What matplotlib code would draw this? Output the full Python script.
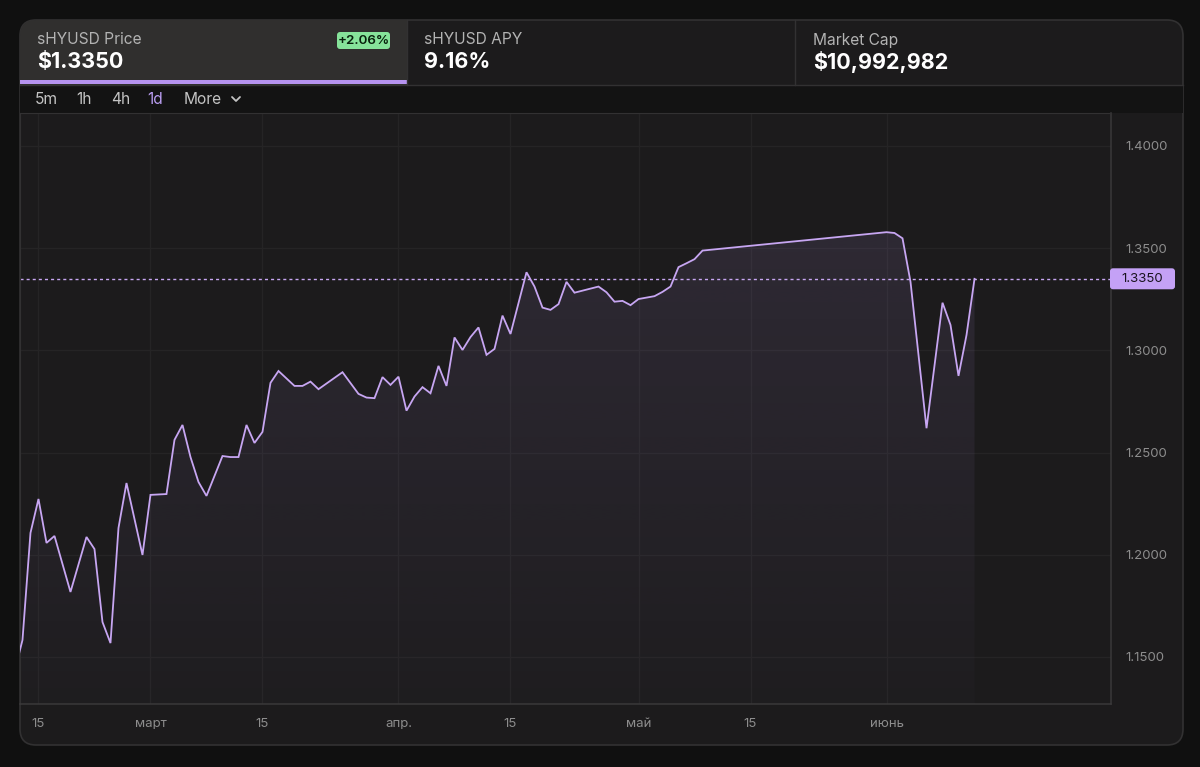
import numpy as np
import matplotlib
matplotlib.use("Agg")
import matplotlib.pyplot as plt
import matplotlib.dates as mdates
from matplotlib.patches import FancyBboxPatch, Rectangle
from matplotlib.colors import to_rgb

plt.rcParams['font.family'] = ['Inter', 'DejaVu Sans']

# daily sHYUSD price (missing days are gaps in the feed)
dates = ['2025-02-12', '2025-02-13', '2025-02-14', '2025-02-15', '2025-02-16', '2025-02-17',
         '2025-02-19', '2025-02-21', '2025-02-22', '2025-02-23', '2025-02-24', '2025-02-25',
         '2025-02-26', '2025-02-28', '2025-03-01', '2025-03-03', '2025-03-04', '2025-03-05',
         '2025-03-06', '2025-03-07', '2025-03-08', '2025-03-10', '2025-03-11', '2025-03-12',
         '2025-03-13', '2025-03-14', '2025-03-15', '2025-03-16', '2025-03-17', '2025-03-19',
         '2025-03-20', '2025-03-21', '2025-03-22', '2025-03-25', '2025-03-27', '2025-03-28',
         '2025-03-29', '2025-03-30', '2025-03-31', '2025-04-01', '2025-04-02', '2025-04-03',
         '2025-04-04', '2025-04-05', '2025-04-06', '2025-04-07', '2025-04-08', '2025-04-09',
         '2025-04-10', '2025-04-11', '2025-04-12', '2025-04-13', '2025-04-14', '2025-04-15',
         '2025-04-17', '2025-04-18', '2025-04-19', '2025-04-20', '2025-04-21', '2025-04-22',
         '2025-04-23', '2025-04-26', '2025-04-27', '2025-04-28', '2025-04-29', '2025-04-30',
         '2025-05-01', '2025-05-03', '2025-05-04', '2025-05-05', '2025-05-06', '2025-05-07',
         '2025-05-08', '2025-05-09', '2025-06-01', '2025-06-02', '2025-06-03', '2025-06-04',
         '2025-06-06', '2025-06-08', '2025-06-09', '2025-06-10', '2025-06-11', '2025-06-12']
prices = [1.1427, 1.1583, 1.2107, 1.2273, 1.2058, 1.2092,
          1.1818, 1.2087, 1.2028, 1.1671, 1.1568, 1.2131,
          1.2351, 1.1999, 1.2293, 1.2297, 1.2562, 1.2635,
          1.2478, 1.2356, 1.2288, 1.2483, 1.2478, 1.2478,
          1.2635, 1.2547, 1.2601, 1.2841, 1.2899, 1.2826,
          1.2826, 1.2847, 1.2810, 1.2893, 1.2787, 1.2769,
          1.2766, 1.2869, 1.2831, 1.2871, 1.2705, 1.2774,
          1.2820, 1.2790, 1.2924, 1.2826, 1.3063, 1.3002,
          1.3065, 1.3112, 1.2978, 1.3007, 1.3170, 1.3080,
          1.3382, 1.3312, 1.3209, 1.3198, 1.3226, 1.3335,
          1.3282, 1.3312, 1.3284, 1.3238, 1.3242, 1.3221,
          1.3251, 1.3265, 1.3286, 1.3312, 1.3407, 1.3426,
          1.3446, 1.3488, 1.3578, 1.3574, 1.3548, 1.3335,
          1.2619, 1.3233, 1.3124, 1.2875, 1.3075, 1.3350]

current_price = 1.3350
tick_dates = ['2025-02-15', '2025-03-01', '2025-03-15', '2025-04-01',
              '2025-04-15', '2025-05-01', '2025-05-15', '2025-06-01']
tick_labels = ['15', 'март', '15', 'апр.', '15', 'май', '15', 'июнь']
price_ticks = [1.15, 1.20, 1.25, 1.30, 1.35, 1.40]

header_titles = ['sHYUSD Price', 'sHYUSD APY', 'Market Cap']
header_values = ['$1.3350', '9.16%', '$10,992,982']
price_change = '+2.06%'
intervals = ['5m', '1h', '4h', '1d', 'More']

W, H = 1200, 767
LINE = '#c7a6f2'
GRID = '#252425'
BORDER = '#323132'

fig = plt.figure(figsize=(W / 100, H / 100), dpi=100)
fig.patch.set_facecolor('#101010')

# background layer in pixel coordinates (y down)
bg = fig.add_axes([0, 0, 1, 1], zorder=0)
bg.set_xlim(0, W)
bg.set_ylim(H, 0)
bg.axis('off')

card = FancyBboxPatch((20, 20), 1163, 725, boxstyle='round,pad=0,rounding_size=16',
                      fc='#1c1b1c', ec=BORDER, lw=1.2)
bg.add_patch(card)
tab = Rectangle((20, 20), 387, 65, fc='#302f2e', ec='none')
bg.add_patch(tab)
tab.set_clip_path(card)
toolbar = Rectangle((20, 85), 1163, 28, fc='#131313', ec='none')
bg.add_patch(toolbar)
toolbar.set_clip_path(card)
bg.plot([20, 1183], [85, 85], color=BORDER, lw=1)
for xd in [407, 795]:
    bg.plot([xd, xd], [20, 85], color=BORDER, lw=1)
bg.add_patch(Rectangle((20, 80), 387, 4, fc='#b693f0', ec='none'))

# header cards
for xt, title, value in zip([37, 424, 813], header_titles, header_values):
    bg.text(xt, 40, title, color='#b3b3b3', fontsize=11.2, va='center', ha='left')
    bg.text(xt, 62, value, color='white', fontsize=15.5, fontweight='bold', va='center', ha='left')
bg.add_patch(FancyBboxPatch((337, 32), 53, 17, boxstyle='round,pad=0,rounding_size=3',
                            fc='#86e39a', ec='none'))
bg.text(363.5, 40.5, price_change, color='#08200c', fontsize=9.6, fontweight='semibold',
        ha='center', va='center')

# interval selector
for xt, lab in zip([35, 76, 111, 147, 184], intervals):
    col = '#b99df0' if lab == '1d' else '#c4c4c4'
    bg.text(xt, 99, lab, color=col, fontsize=11.2, ha='left', va='center')
bg.plot([232, 236, 240], [97, 101, 97], color='#c4c4c4', lw=1.3, solid_capstyle='round')

# chart
ax = fig.add_axes([20 / W, (H - 704) / H, 1091 / W, 591 / H], zorder=1)
ax.set_facecolor('#1c1b1c')

x = mdates.date2num(np.array(dates, dtype='datetime64[D]'))
y = np.array(prices)
base = mdates.date2num(np.datetime64('2025-02-15'))
xlo, xhi = base - 2.31, base + 134.06
ylo, yhi = 1.1270, 1.4161

poly = ax.fill_between(x, y, ylo, color='none', lw=0)
rgba = np.zeros((256, 1, 4))
rgba[..., :3] = to_rgb('#a98bd6')
rgba[..., 3] = np.linspace(0.02, 0.13, 256)[:, None]
im = ax.imshow(rgba, extent=[x[0], x[-1], ylo, y.max()], origin='lower',
               aspect='auto', zorder=1, interpolation='bilinear')
im.set_clip_path(poly.get_paths()[0], transform=ax.transData)

ax.plot(x, y, color=LINE, lw=1.3, zorder=3, solid_joinstyle='miter')
ax.axhline(current_price, color=LINE, lw=1, ls=(0, (2.2, 2.2)), zorder=2)

ax.set_xlim(xlo, xhi)
ax.set_ylim(ylo, yhi)
ax.set_xticks(mdates.date2num(np.array(tick_dates, dtype='datetime64[D]')))
ax.set_xticklabels(tick_labels)
ax.set_yticks(price_ticks)
ax.set_yticklabels([f'{v:.4f}' for v in price_ticks])
ax.yaxis.tick_right()
ax.tick_params(axis='x', length=0, pad=10, labelsize=9.5, labelcolor='#8d8d8d')
ax.tick_params(axis='y', length=0, pad=10, labelsize=9.5, labelcolor='#8d8d8d')
ax.grid(True, color=GRID, lw=0.9)
ax.set_axisbelow(True)
for side in ['top', 'left']:
    ax.spines[side].set_color(BORDER)
for side in ['bottom', 'right']:
    ax.spines[side].set_color('#3a393a')
    ax.spines[side].set_linewidth(1.1)

# current price tag, placed from the axes transform
top = fig.add_axes([0, 0, 1, 1], zorder=2)
top.set_xlim(0, W)
top.set_ylim(H, 0)
top.axis('off')
tag_y = H - ax.transData.transform((xlo, current_price))[1]
tag_x = ax.transAxes.transform((1, 0))[0] - 1
top.add_patch(FancyBboxPatch((tag_x, tag_y - 10.5), 65, 21, boxstyle='round,pad=0,rounding_size=3',
                             fc='#c4a1f6', ec='none'))
top.text(tag_x + 32.5, tag_y + 0.5, f'{current_price:.4f}', color='#1a1420', fontsize=9.5,
         ha='center', va='center')

fig.savefig('out.png', dpi=100, facecolor=fig.get_facecolor())
